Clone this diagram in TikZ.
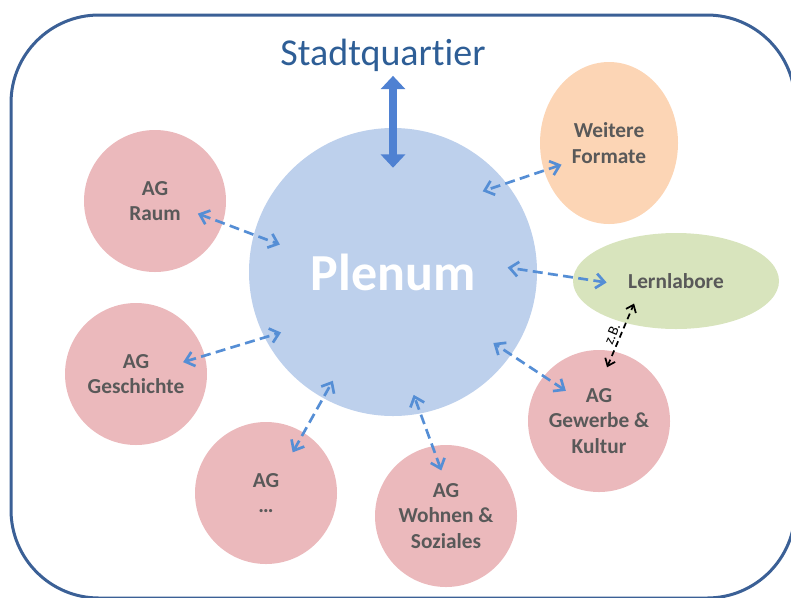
\documentclass[tikz,border=0pt]{standalone}
\usepackage{fontspec}
\setmainfont{Carlito}[Ligatures={NoCommon}]
\usetikzlibrary{arrows.meta,shapes.geometric}

\definecolor{rahmen}{RGB}{59,96,150}
\definecolor{titel}{RGB}{46,94,150}
\definecolor{plenumblau}{RGB}{189,208,236}
\definecolor{agrosa}{RGB}{235,185,188}
\definecolor{formatorange}{RGB}{252,213,181}
\definecolor{labgruen}{RGB}{216,228,189}
\definecolor{pfeilblau}{RGB}{85,142,213}
\definecolor{grosspfeil}{RGB}{79,129,210}
\definecolor{schrift}{RGB}{89,89,89}

\tikzset{
  ag/.style={circle, fill=agrosa, minimum size=106.5pt, inner sep=0pt, align=center,
    text=schrift, font=\bfseries\fontsize{16}{19}\selectfont},
  blase/.style={ellipse, inner sep=0pt, align=center,
    text=schrift, font=\bfseries\fontsize{16}{19}\selectfont},
  link/.style 2 args={pfeilblau, line width=2pt, dash pattern=on 7.5pt off 4pt,
    {Straight Barb[length=6.5pt,width=11pt]}-{Straight Barb[length=6.5pt,width=11pt]},
    shorten <=-#1, shorten >=-#2},
  zblink/.style 2 args={black, line width=1.3pt, dash pattern=on 4.5pt off 3pt,
    {Straight Barb[length=5pt,width=8pt]}-{Straight Barb[length=5pt,width=8pt]},
    shorten <=-#1, shorten >=-#2},
  bigpfeil/.style={grosspfeil, line width=6pt,
    {Triangle[length=10pt,width=18pt]}-{Triangle[length=10pt,width=18pt]}},
}

\begin{document}
\begin{tikzpicture}[x=0.75pt, y=-0.75pt]
      %\draw[help lines] (0, 0) grid (791, 597);
      \useasboundingbox (0,0) rectangle (791,597);

      \draw[rahmen, line width=2.25pt, rounded corners=66pt] (11,15) rectangle (795,598);

      \node[anchor=base, text=titel, font=\fontsize{28.5}{34}\selectfont] (stadt) at (383,65) {Stadtquartier};

      \node[circle, fill=plenumblau, minimum size=216pt, inner sep=0pt, text=white,
            font=\bfseries\fontsize{39}{46}\selectfont] (plenum) at (393,272) {Plenum};

      \node[ag] (raum)     at (155,201) {AG\\Raum};
      \node[ag] (gesch)    at (136,374) {AG\\Geschichte};
      \node[ag] (agdots)   at (266,493) {AG\\…};
      \node[ag] (wohnen)   at (446,516) {AG\\Wohnen \&\\Soziales};
      \node[ag] (gewerbe)  at (599,421) {AG\\Gewerbe \&\\Kultur};

      \node[blase, fill=formatorange, minimum width=103.5pt, minimum height=121.5pt] (formate) at (609,143) {Weitere\\Formate};
      \node[blase, fill=labgruen, minimum width=154.5pt, minimum height=72pt] (lernlabore) at (676,281) {Lernlabore};

      \draw[bigpfeil] (stadt.south -| plenum.north) -- ([yshift=-30pt]plenum.north);

      \draw[link={20pt}{21pt}]   (raum.-18)       -- (plenum.165);
      \draw[link={17pt}{13pt}]   (gesch.15)       -- (plenum.207);
      \draw[link={17pt}{15pt}]   (agdots.58)      -- (plenum.241);
      \draw[link={19.5pt}{15pt}] (wohnen.101)     -- (plenum.-79);
      \draw[link={20pt}{16pt}]   (gewerbe.141)    -- (plenum.-35);
      \draw[link={25.5pt}{22.5pt}] (lernlabore.178) -- (plenum.0);
      \draw[link={14pt}{19pt}]   (formate.203)    -- (plenum.38);

      \draw[zblink={13pt}{16pt}] (gewerbe.78) -- node[sloped, above, inner sep=2pt, font=\fontsize{11}{13}\selectfont] {z.B.} (lernlabore.220);
\end{tikzpicture}
\end{document}
